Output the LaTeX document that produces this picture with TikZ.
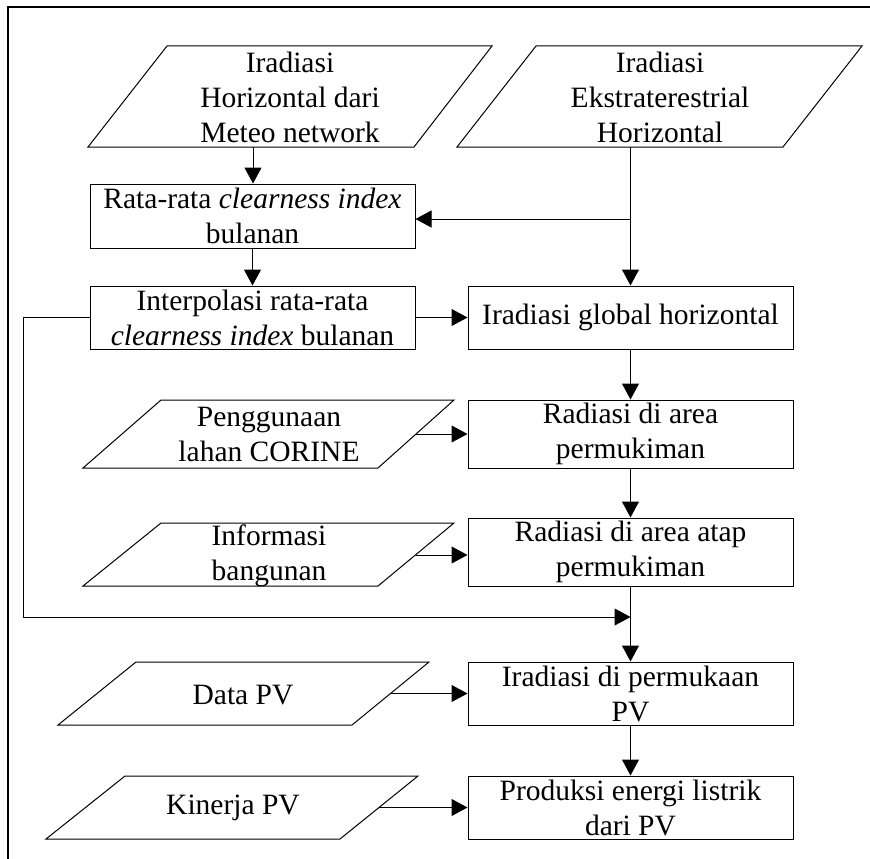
\documentclass[tikz,border=0pt]{standalone}
\usepackage{fontspec}
\setmainfont{Liberation Serif}
\usetikzlibrary{arrows.meta,calc}
\begin{document}
\begin{tikzpicture}[x=1pt,y=-1pt,
  font=\fontsize{29.5}{35}\selectfont,
  box/.style={draw, line width=1pt, inner sep=0pt, align=center, minimum width=325pt},
  txt/.style={align=center, inner sep=0pt},
  shp/.style={draw, line width=1pt, line join=miter},
  arr/.style={line width=1pt, -{Triangle[length=16pt,width=17pt]}},
  ln/.style={line width=1pt}]
\useasboundingbox (0,0) rectangle (870,859);
% frame
\draw[line width=2pt] (8,859) -- (8,7) -- (870,7);

% parallelograms
\draw[shp] (167,46) -- (492,46) -- (414,147) -- (88,147) -- cycle;
\node[txt] (p1) at (290,97) {Iradiasi\\Horizontal dari\\Meteo network};
\coordinate (p1s) at (253,147);

\draw[shp] (536,46) -- (862,46) -- (783,147) -- (457,147) -- cycle;
\node[txt] (p2) at (660,97) {Iradiasi\\Ekstraterestrial\\Horizontal};
\coordinate (p2s) at (630.5,147);

\draw[shp] (161,400) -- (454,400) -- (378,468) -- (83,468) -- cycle;
\node[txt] (p3) at (269,434) {Penggunaan\\lahan CORINE};
\coordinate (p3e) at (416,434);

\draw[shp] (161,523) -- (454,523) -- (378,586) -- (83,586) -- cycle;
\node[txt] (p4) at (269,556) {Informasi\\bangunan};
\coordinate (p4e) at (416,555);

\draw[shp] (136,662) -- (429,662) -- (352,725) -- (58,725) -- cycle;
\node[txt] (p5) at (243,695) {Data PV};
\coordinate (p5e) at (390,693.5);

\draw[shp] (125,776) -- (418,776) -- (340,839) -- (46,839) -- cycle;
\node[txt] (p6) at (233,808) {Kinerja PV};
\coordinate (p6e) at (379,807.5);

% boxes
\node[box, minimum height=64pt] (b1) at (252.5,216) {Rata-rata \textit{clearness index}\\bulanan};
\node[box, minimum height=63pt] (b2) at (252.5,317.5) {Interpolasi rata-rata\\\textit{clearness index} bulanan};
\node[box, minimum height=63pt] (b3) at (630.5,317.5) {Iradiasi global horizontal};
\node[box, minimum height=68pt] (b4) at (630.5,434) {Radiasi di area\\permukiman};
\node[box, minimum height=68pt] (b5) at (630.5,552) {Radiasi di area atap\\permukiman};
\node[box, minimum height=63pt] (b6) at (630.5,693.5) {Iradiasi di permukaan\\PV};
\node[box, minimum height=63pt] (b7) at (630.5,807.5) {Produksi energi listrik\\dari PV};

% connectors
\draw[arr] (p1s) -- (p1s |- b1.north);
\draw[arr] (p2s) -- (b3.north);
\coordinate (j1) at (630.5,219);
\draw[arr] (j1) -- (j1 -| b1.east);
\draw[arr] (b1.south) -- (b2.north);
\draw[arr] (b2.east) -- (b3.west);
\draw[arr] (b3.south) -- (b4.north);
\draw[arr] (b4.south) -- (b5.north);
\draw[arr] (b5.south) -- (b6.north);
\draw[arr] (b6.south) -- (b7.north);
\coordinate (fb1) at (23,317.5);
\coordinate (fb2) at (23,617);
\draw[arr] (b2.west) -- (fb1) -- (fb2) -- (fb2 -| b5.south);
\draw[arr] (p3e) -- (p3e -| b4.west);
\draw[arr] (p4e) -- (p4e -| b5.west);
\draw[arr] (p5e) -- (b6.west);
\draw[arr] (p6e) -- (b7.west);
\end{tikzpicture}
\end{document}
